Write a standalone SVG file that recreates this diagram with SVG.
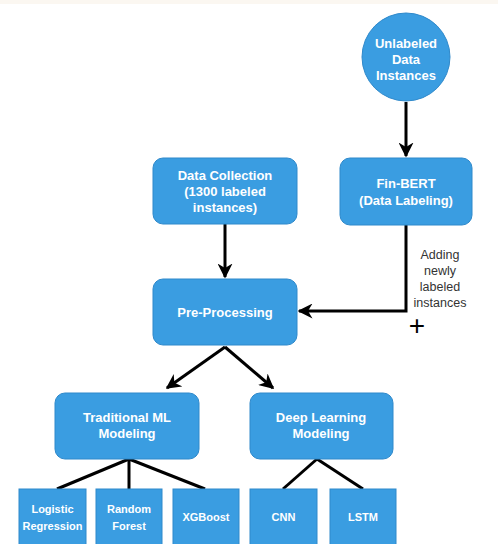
<svg xmlns="http://www.w3.org/2000/svg" width="498" height="544" viewBox="0 0 498 544">
<style>
.box{fill:#3A9DE1;stroke:#2F89CB;stroke-width:1}
.t{font-family:"Liberation Sans",Arial,sans-serif;font-weight:bold;fill:#fff;text-anchor:middle}
.m{font-size:13px}
.s{font-size:11px}
.c{fill:none;stroke:#000;stroke-width:3}
.lab{font-family:"Liberation Sans",Arial,sans-serif;font-size:12.5px;fill:#333;text-anchor:middle}
</style>
<defs>
<marker id="ah" viewBox="0 0 10 10" refX="9" refY="5" markerWidth="5" markerHeight="5" orient="auto" markerUnits="strokeWidth">
<path d="M0,0 L10,5 L0,10 L3,5 Z" fill="#000"/>
</marker>
</defs>
<rect width="498" height="544" fill="#fff"/>
<rect width="498" height="4" fill="#FBF7F1"/>
<g id="connectors">
<line class="c" x1="406" y1="102" x2="406" y2="156" marker-end="url(#ah)"/>
<line class="c" x1="225" y1="224" x2="225" y2="277" marker-end="url(#ah)"/>
<polyline class="c" points="406,225 406,311 299,311" marker-end="url(#ah)"/>
<line class="c" x1="225" y1="347" x2="167" y2="388" marker-end="url(#ah)"/>
<line class="c" x1="225" y1="347" x2="273" y2="388" marker-end="url(#ah)"/>
<line class="c" x1="129" y1="459" x2="57" y2="489"/>
<line class="c" x1="129" y1="459" x2="129" y2="489"/>
<line class="c" x1="129" y1="459" x2="205" y2="489"/>
<line class="c" x1="317" y1="459" x2="283" y2="489"/>
<line class="c" x1="317" y1="459" x2="363" y2="489"/>
</g>
<g id="feedback-label">
<rect x="412" y="244" width="56" height="64" fill="#fff"/>
<text class="lab" x="440" y="259">Adding</text>
<text class="lab" x="440" y="275">newly</text>
<text class="lab" x="440" y="291">labeled</text>
<text class="lab" x="440" y="307">instances</text>
<text x="417" y="335" font-family="Liberation Sans,Arial,sans-serif" font-size="28" fill="#000" text-anchor="middle">+</text>
</g>
<g id="unlabeled">
<circle class="box" cx="406" cy="57" r="44"/>
<text class="t m" x="406" y="48">Unlabeled</text>
<text class="t m" x="406" y="64">Data</text>
<text class="t m" x="406" y="80">Instances</text>
</g>
<g id="finbert">
<rect class="box" x="340" y="158" width="132" height="67" rx="10"/>
<text class="t m" x="406" y="188">Fin-BERT</text>
<text class="t m" x="406" y="205">(Data Labeling)</text>
</g>
<g id="datacollection">
<rect class="box" x="153" y="158" width="144" height="66" rx="10"/>
<text class="t m" x="225" y="180">Data Collection</text>
<text class="t m" x="225" y="196">(1300 labeled</text>
<text class="t m" x="225" y="212">instances)</text>
</g>
<g id="preprocessing">
<rect class="box" x="153" y="279" width="144" height="66" rx="10"/>
<text class="t m" x="225" y="317">Pre-Processing</text>
</g>
<g id="traditional">
<rect class="box" x="55" y="393" width="144" height="66" rx="10"/>
<text class="t m" x="127" y="422">Traditional ML</text>
<text class="t m" x="127" y="438">Modeling</text>
</g>
<g id="deeplearning">
<rect class="box" x="250" y="393" width="143" height="66" rx="10"/>
<text class="t m" x="321" y="422">Deep Learning</text>
<text class="t m" x="321" y="438">Modeling</text>
</g>
<g id="logistic">
<rect class="box" x="19" y="489" width="67" height="60"/>
<text class="t s" x="52.5" y="513">Logistic</text>
<text class="t s" x="52.5" y="530">Regression</text>
</g>
<g id="randomforest">
<rect class="box" x="96" y="489" width="66" height="60"/>
<text class="t s" x="129" y="513">Random</text>
<text class="t s" x="129" y="530">Forest</text>
</g>
<g id="xgboost">
<rect class="box" x="173" y="489" width="66" height="60"/>
<text class="t s" x="206" y="521">XGBoost</text>
</g>
<g id="cnn">
<rect class="box" x="250" y="489" width="67" height="60"/>
<text class="t s" x="283.5" y="521">CNN</text>
</g>
<g id="lstm">
<rect class="box" x="330" y="489" width="66" height="60"/>
<text class="t s" x="363" y="521">LSTM</text>
</g>
</svg>
